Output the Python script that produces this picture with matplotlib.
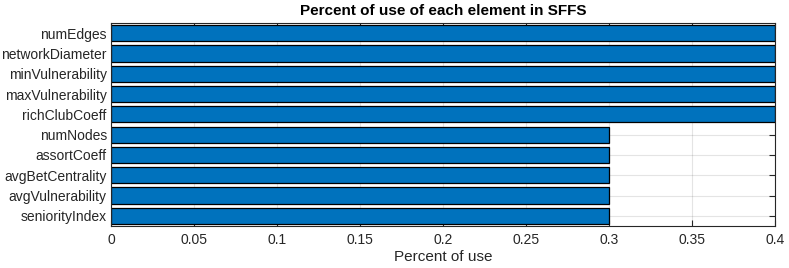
import matplotlib
matplotlib.use("Agg")
import matplotlib.pyplot as plt

categories = ["numEdges", "networkDiameter", "minVulnerability", "maxVulnerability",
              "richClubCoeff", "numNodes", "assortCoeff", "avgBetCentrality",
              "avgVulnerability", "seniorityIndex"]
values = [0.4, 0.4, 0.4, 0.4, 0.4, 0.3, 0.3, 0.3, 0.3, 0.3]
xticks = [0, 0.05, 0.1, 0.15, 0.2, 0.25, 0.3, 0.35, 0.4]
xticklabels = ["0", "0.05", "0.1", "0.15", "0.2", "0.25", "0.3", "0.35", "0.4"]

plt.rcParams['font.family'] = ['Liberation Sans', 'DejaVu Sans']
fig = plt.figure(figsize=(7.89, 2.68), dpi=100)
ax = fig.add_axes([0.1407, 0.1567, 0.9823 - 0.1407, 0.9142 - 0.1567])

pos = list(range(len(categories)))
ax.barh(pos, values, height=0.8, color="#0072BD", edgecolor="black", linewidth=0.9, zorder=3)
ax.set_ylim(len(categories) - 0.5, -0.5)
ax.set_xlim(0, 0.4)
ax.set_yticks(pos)
ax.set_yticklabels(categories, fontsize=10, color="#262626")
ax.set_xticks(xticks)
ax.set_xticklabels(xticklabels, fontsize=10, color="#262626")
ax.tick_params(axis="both", direction="in", length=4, color="#262626",
               top=True, right=True, width=0.8)
ax.tick_params(axis="y", pad=3)
ax.tick_params(axis="x", pad=5)
ax.grid(True, color="#262626", alpha=0.12, linewidth=0.8, zorder=0)
ax.set_axisbelow(True)
for s in ax.spines.values():
    s.set_color("#262626")
    s.set_linewidth(0.8)
    s.set_zorder(4)
ax.set_xlabel("Percent of use", fontsize=11, color="#262626", labelpad=2)
ax.set_title("Percent of use of each element in SFFS", fontsize=11, fontweight="bold", pad=6)

fig.savefig("out.png", dpi=100)
